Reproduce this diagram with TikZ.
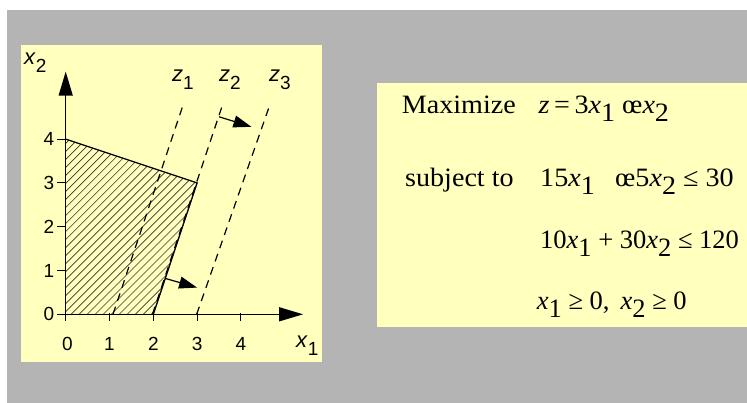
\documentclass[tikz,border=0pt]{standalone}
\usepackage{fontspec}
\setmainfont{Liberation Serif}
\newfontfamily\hv{Liberation Sans}
\usetikzlibrary{arrows.meta}
\definecolor{bggray}{RGB}{180,180,180}
\definecolor{paneyellow}{RGB}{255,255,190}
\newcommand\lo[1]{\raisebox{-8pt}{#1}}
\newcommand\wide[1]{\scalebox{1.06}[1]{#1}}
\tikzset{
  axisline/.style={line width=1.3pt, -{Triangle[length=24pt,width=14pt]}},
  tickmark/.style={line width=1.1pt},
  hatch/.style={line width=0.65pt, black!80},
  boundline/.style={line width=1.3pt},
  zline/.style={line width=1.2pt, dash pattern=on 8pt off 6pt},
  movearrow/.style={line width=1.2pt, -{Triangle[length=18pt,width=12pt]}},
  ticklab/.style={inner sep=0pt, font=\hv\fontsize{19}{20}\selectfont},
  axlab/.style={inner sep=0pt, anchor=base west, font=\hv\fontsize{22}{24}\selectfont},
  eqtext/.style={inner sep=0pt, anchor=base west, font=\fontsize{26.5}{30}\selectfont},
}
\begin{document}
\begin{tikzpicture}[x=1pt,y=-1pt]
\useasboundingbox (0,0) rectangle (747,403);
\fill[white] (0,0) rectangle (747,403);
\fill[bggray] (7,10) rectangle (747,403);
\fill[paneyellow] (21,45) rectangle (322,362);
\fill[paneyellow] (377,83) rectangle (747,327);

\begin{scope}[shift={(65.7,314.3)}, x=43.8pt, y=43.8pt]
  \coordinate (O) at (0,0);
  \coordinate (A) at (0,4);
  \coordinate (B) at (3,3);
  \coordinate (C) at (2,0);
  \coordinate (xend) at (5.42,0);
  \coordinate (yend) at (0,5.54);
  % hatching
  \begin{scope}
    \clip (O) -- (A) -- (B) -- (C) -- cycle;
    \foreach \c in {-5,-4.817,...,3} \draw[hatch] (\c,0) -- ++(5,5);
  \end{scope}
  % boundary
  \draw[boundline] (A) -- (B) -- (C);
  % objective lines
  \coordinate (z1a) at (1.08,0);  \coordinate (z1b) at (2.68,4.78);
  \coordinate (z2a) at (1.98,0);  \coordinate (z2b) at (3.58,4.78);
  \coordinate (z3a) at (2.99,0);  \coordinate (z3b) at (4.66,4.78);
  \draw[zline] (z1a) -- (z1b);
  \draw[zline] (z2a) -- (z2b);
  \draw[zline] (z3a) -- (z3b);
  % ticks
  \foreach \i in {0,...,4} {
    \draw[tickmark] (\i,0.03) -- (\i,-0.16);
    \draw[tickmark] (0,\i) -- (-0.2,\i);
  }
  % axes
  \draw[axisline] (O) -- (xend);
  \draw[axisline] (O) -- (yend);
  % move arrows
  \coordinate (m1a) at (3.50,4.51);
  \coordinate (m1b) at (4.24,4.28);
  \coordinate (m2a) at (2.27,0.82);
  \coordinate (m2b) at (3.00,0.61);
  \draw[movearrow] (m1a) -- (m1b);
  \draw[movearrow] (m2a) -- (m2b);
  % tick labels
  \node[ticklab, anchor=base] (tx0) at (0.04,-0.82) {0};
  \node[ticklab, anchor=base] (tx1) at (1,-0.82) {1};
  \node[ticklab, anchor=base] (tx2) at (2,-0.82) {2};
  \node[ticklab, anchor=base] (tx3) at (3,-0.82) {3};
  \node[ticklab, anchor=base] (tx4) at (4,-0.82) {4};
  \node[ticklab, anchor=east] (ty0) at (-0.26,0) {0};
  \node[ticklab, anchor=east] (ty1) at (-0.26,1) {1};
  \node[ticklab, anchor=east] (ty2) at (-0.26,2) {2};
  \node[ticklab, anchor=east] (ty3) at (-0.26,3) {3};
  \node[ticklab, anchor=east] (ty4) at (-0.26,4) {4};
\end{scope}

% axis and line labels
\node[axlab] (lx2) at (24,65) {\textit{x}\lo{\fontsize{19}{20}\selectfont 2}};
\node[axlab] (lx1) at (296,348) {\textit{x}\lo{\fontsize{19}{20}\selectfont 1}};
\node[axlab] (lz1) at (172,81.7) {\textit{z}\lo{\fontsize{19}{20}\selectfont 1}};
\node[axlab] (lz2) at (219,81.7) {\textit{z}\lo{\fontsize{19}{20}\selectfont 2}};
\node[axlab] (lz3) at (269,81.7) {\textit{z}\lo{\fontsize{19}{20}\selectfont 3}};

% problem statement
\node[eqtext] (max) at (401.7,113.3) {\wide{Maximize}};
\node[eqtext] (obj) at (538.3,113.3) {\wide{\textit{z}\,=\,3\textit{x}\lo{1} œ\textit{x}\lo{2}}};
\node[eqtext] (subj) at (405,186.7) {\wide{subject to}};
\node[eqtext] (c1a) at (540,186.7) {\wide{15\textit{x}\lo{1}}};
\node[eqtext] (c1b) at (615,186.7) {\wide{œ5\textit{x}\lo{2} ≤ 30}};
\node[eqtext] (c2) at (540,248.3) {10\textit{x}\lo{1} + 30\textit{x}\lo{2} ≤ 120};
\node[eqtext] (c3) at (536.7,310) {\textit{x}\lo{1} ≥ 0,\, \textit{x}\lo{2} ≥ 0};
\end{tikzpicture}
\end{document}
